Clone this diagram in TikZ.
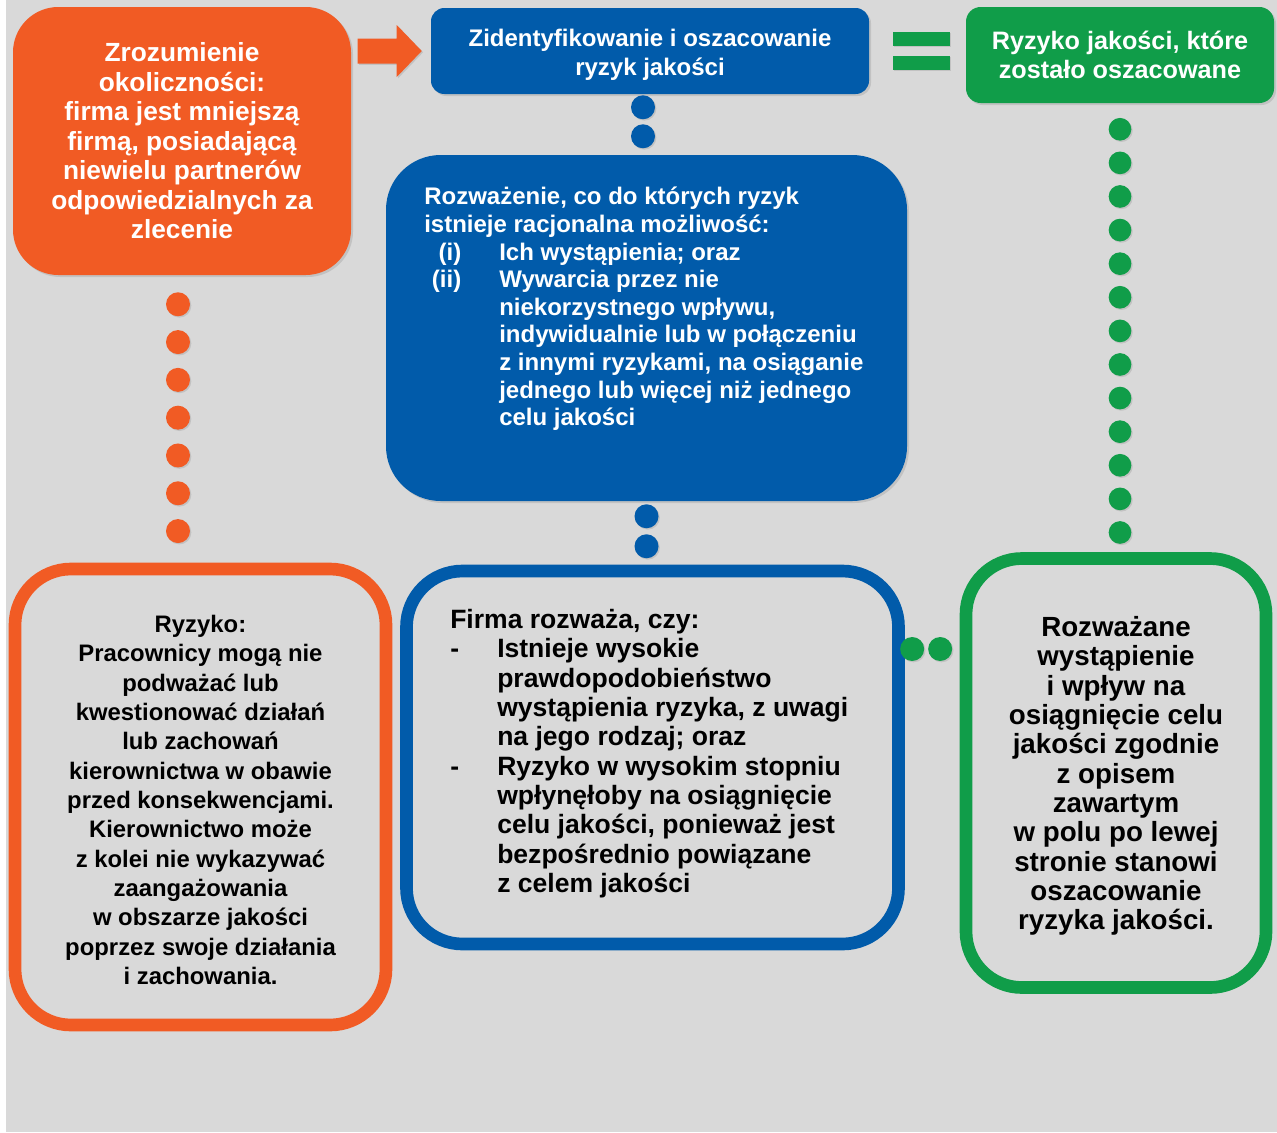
\documentclass[tikz,border=0pt]{standalone}
\usepackage{fontspec}
\setmainfont{Liberation Sans}
\usepackage{tikz}
\usetikzlibrary{calc,shadows,positioning}
\definecolor{orng}{RGB}{241,91,36}
\definecolor{blu}{RGB}{1,91,170}
\definecolor{grn}{RGB}{16,157,73}
\definecolor{bggray}{RGB}{217,217,217}
\def\pxu{0.75pt}

\begin{document}
\begin{tikzpicture}[x=0.75pt,y=-0.75pt]
\tikzstyle{solidbox}=[inner sep=0pt,text=white,align=center,drop shadow={shadow xshift=1.5pt,shadow yshift=-1.5pt,opacity=0.25}]
\tikzstyle{ringbox}=[draw,line width=9.5pt,rounded corners=42pt,inner sep=0pt]
\tikzstyle{boxtext}=[inner sep=0pt,align=center]
\tikzstyle{bead}=[drop shadow={shadow xshift=1pt,shadow yshift=-1pt,opacity=0.25}]

\useasboundingbox (0,0) rectangle (1277,1132);
\fill[white] (0,0) rectangle (1277,1132);
\fill[bggray] (6,0) rectangle (1277,1132);

% top row
\node[solidbox,fill=orng,rounded corners=34pt,minimum width=338*\pxu,minimum height=268*\pxu,font=\fontsize{19.7}{22.1}\selectfont\bfseries] (ctx) at (182,141) {Zrozumienie\\okoliczności:\\firma jest mniejszą\\firmą, posiadającą\\niewielu partnerów\\odpowiedzialnych za\\zlecenie};
\node[solidbox,fill=blu,rounded corners=10pt,minimum width=438*\pxu,minimum height=86*\pxu] (idq) at (650,51) {};
\node[boxtext,text=white,yshift=-3pt,font=\fontsize{18}{21.75}\selectfont\bfseries] (idqtext) at (idq) {Zidentyfikowanie i oszacowanie\\ryzyk jakości};
\node[solidbox,fill=grn,rounded corners=11pt,minimum width=308*\pxu,minimum height=96*\pxu,font=\fontsize{18.9}{21.75}\selectfont\bfseries] (asr) at (1120,55) {Ryzyko jakości, które\\zostało oszacowane};

\begin{scope}[shift={(idq.west)}]
\fill[orng,bead] (-73,-12.5) -- (-34,-12.5) -- (-34,-26) -- (-9,0) -- (-34,26) -- (-34,12.5) -- (-73,12.5) -- cycle;
\end{scope}
\fill[grn,bead] (893,32) rectangle (950,46);
\fill[grn,bead] (893,56) rectangle (950,70);

% middle
\node[solidbox,fill=blu,rounded corners=41pt,minimum width=521*\pxu,minimum height=346*\pxu] (cons) at (646.5,328) {};
\node[anchor=north west,inner sep=0pt,text=white,align=left,font=\fontsize{18}{20.7}\selectfont\bfseries] (constext) at (424,187) {Rozważenie, co do których ryzyk\\istnieje racjonalna możliwość:\\\makebox[27.75pt][r]{(i)}\hspace{28.5pt}Ich wystąpienia; oraz\\\makebox[27.75pt][r]{(ii)}\hspace{28.5pt}Wywarcia przez nie\\\hspace*{56.25pt}niekorzystnego wpływu,\\\hspace*{56.25pt}indywidualnie lub w połączeniu\\\hspace*{56.25pt}z innymi ryzykami, na osiąganie\\\hspace*{56.25pt}jednego lub więcej niż jednego\\\hspace*{56.25pt}celu jakości};

% bottom row
\node[ringbox,draw=orng,minimum width=371*\pxu,minimum height=456*\pxu] (risk) at (200.5,797) {};
\node[boxtext,yshift=-2.25pt,font=\fontsize{17.9}{22}\selectfont\bfseries] (risktext) at (risk) {Ryzyko:\\Pracownicy mogą nie\\podważać lub\\kwestionować działań\\lub zachowań\\kierownictwa w obawie\\przed konsekwencjami.\\Kierownictwo może\\z kolei nie wykazywać\\zaangażowania\\w obszarze jakości\\poprzez swoje działania\\i zachowania.};
\node[ringbox,draw=blu,minimum width=492*\pxu,minimum height=373*\pxu] (firm) at (652.5,757.5) {};
\node[anchor=north west,inner sep=0pt,align=left,font=\fontsize{19.9}{22}\selectfont\bfseries] (firmtext) at (450,609) {Firma rozważa, czy:\\\makebox[35.25pt][l]{-}Istnieje wysokie\\\hspace*{35.25pt}prawdopodobieństwo\\\hspace*{35.25pt}wystąpienia ryzyka, z uwagi\\\hspace*{35.25pt}na jego rodzaj; oraz\\\makebox[35.25pt][l]{-}Ryzyko w wysokim stopniu\\\hspace*{35.25pt}wpłynęłoby na osiągnięcie\\\hspace*{35.25pt}celu jakości, ponieważ jest\\\hspace*{35.25pt}bezpośrednio powiązane\\\hspace*{35.25pt}z celem jakości};
\node[ringbox,draw=grn,minimum width=300*\pxu,minimum height=429*\pxu] (occ) at (1116,773) {};
\node[boxtext,yshift=-2.25pt,font=\fontsize{20.8}{22}\selectfont\bfseries] (occtext) at (occ) {Rozważane\\wystąpienie\\i wpływ na\\osiągnięcie celu\\jakości zgodnie\\z opisem\\zawartym\\w polu po lewej\\stronie stanowi\\oszacowanie\\ryzyka jakości.};

% dotted links
\foreach \k in {0,...,6} \fill[orng,bead] ($(ctx.south)+(-4,29+37.8*\k)$) circle[radius=9pt];
\foreach \k in {0,1} \fill[blu,bead] ($(idq.south)+(-7,13+29*\k)$) circle[radius=9pt];
\foreach \k in {0,1} \fill[blu,bead] ($(cons.south)+(0,15+30*\k)$) circle[radius=9pt];
\foreach \k in {0,...,12} \fill[grn,bead] ($(asr.south)+(0,26+33.6*\k)$) circle[radius=8.5pt];
\foreach \k in {0,1} \fill[grn,bead] ($(occ.west)+(-47.5+28*\k,-124)$) circle[radius=9pt];

\end{tikzpicture}
\end{document}
